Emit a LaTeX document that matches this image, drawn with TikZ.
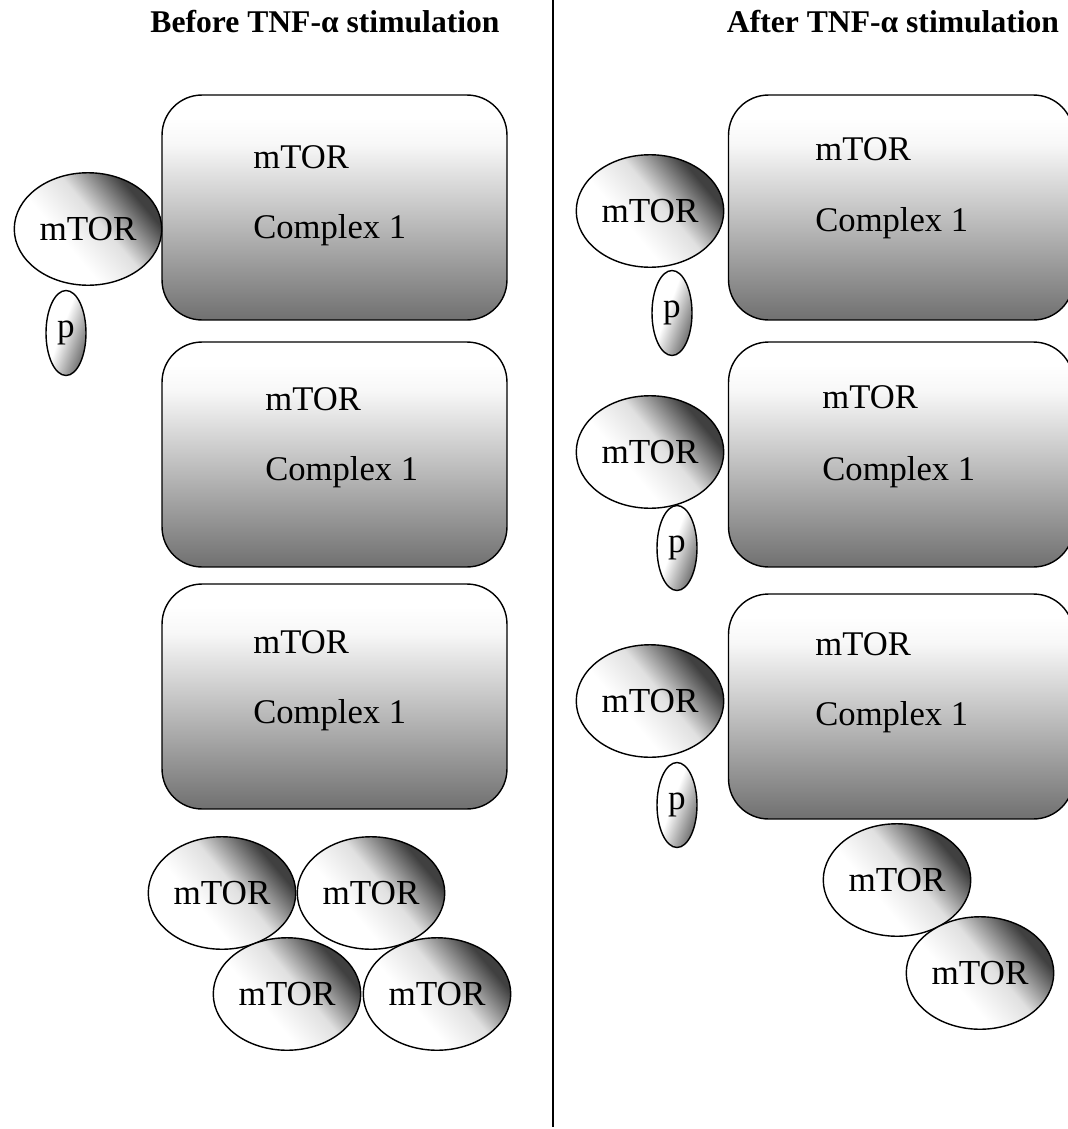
\documentclass[tikz,border=0pt]{standalone}
\usepackage{fontspec}
\setmainfont{Liberation Serif}
\usetikzlibrary{shapes.geometric}

\pgfdeclareverticalshading{blobshade}{100bp}{color(0bp)=(white); color(40bp)=(white);
  color(55bp)=(black!12); color(72bp)=(black!75); color(100bp)=(black!75)}
\pgfdeclareverticalshading{pshade}{100bp}{color(0bp)=(white); color(45bp)=(white);
  color(75bp)=(black!60); color(100bp)=(black!60)}
\pgfdeclareverticalshading{boxshade}{100bp}{color(0bp)=(black!56); color(25bp)=(black!56);
  color(64bp)=(black!3); color(70bp)=(white); color(100bp)=(white)}

\tikzset{
  complexbox/.style={rectangle, rounded corners=0.8cm, draw=black, line width=0.8pt,
    minimum width=6.9cm, minimum height=4.5cm, inner sep=0pt, shading=boxshade},
  mtorblob/.style={ellipse, draw=black, line width=0.8pt, inner sep=0pt,
    minimum width=2.95cm, minimum height=2.25cm, font=\fontsize{20}{24}\selectfont,
    shading=blobshade, shading angle=-50},
  pblob/.style={ellipse, draw=black, line width=0.8pt, inner sep=0pt,
    minimum width=0.8cm, minimum height=1.7cm, font=\fontsize{20}{24}\selectfont,
    shading=pshade, shading angle=-110},
  boxlabel/.style={anchor=west, inner sep=0pt, text height=1.5ex, text depth=.25ex,
    font=\fontsize{19.7}{24}\selectfont},
  heading/.style={font=\fontsize{18}{22}\selectfont\bfseries}
}

\begin{document}
\begin{tikzpicture}[x=0.02cm, y=-0.02cm]

\useasboundingbox (0,0) rectangle (1068,1129);

% headings and divider
\node[heading] (before) at (325,22) {Before TNF-α stimulation};
\node[heading] (after) at (893,22) {After TNF-α stimulation};
\coordinate (divtop) at (553,0);
\coordinate (divbot) at (553,1127);
\draw[line width=0.8pt] (divtop) -- (divbot);

% before: complexes
\node[complexbox] (c1) at (334.5,207.5) {};
\node[complexbox] (c2) at (334.5,454.5) {};
\node[complexbox] (c3) at (334.5,696.5) {};
\node[boxlabel] (c1a) at (253,163) {mTOR};
\node[boxlabel] (c1b) at (253,233) {Complex 1};
\node[boxlabel] (c2a) at (265,405) {mTOR};
\node[boxlabel] (c2b) at (265,475) {Complex 1};
\node[boxlabel] (c3a) at (253,648) {mTOR};
\node[boxlabel] (c3b) at (253,718) {Complex 1};

% before: mTOR attached with p
\node[mtorblob] (m1) at (88,229) {mTOR};
\node[pblob] (p1) at (66,333) {p};

% before: free mTOR
\node[mtorblob] (f1) at (222,893) {mTOR};
\node[mtorblob] (f2) at (371,893) {mTOR};
\node[mtorblob] (f3) at (287,994) {mTOR};
\node[mtorblob] (f4) at (437,994) {mTOR};

% after: complexes
\node[complexbox] (d1) at (901,207.5) {};
\node[complexbox] (d2) at (901,454.5) {};
\node[complexbox] (d3) at (901,706.5) {};
\node[boxlabel] (d1a) at (815,155) {mTOR};
\node[boxlabel] (d1b) at (815,226) {Complex 1};
\node[boxlabel] (d2a) at (822,403) {mTOR};
\node[boxlabel] (d2b) at (822,475) {Complex 1};
\node[boxlabel] (d3a) at (815,650) {mTOR};
\node[boxlabel] (d3b) at (815,720) {Complex 1};

% after: mTOR with p
\node[mtorblob] (n1) at (650,211) {mTOR};
\node[pblob] (q1) at (672,313) {p};
\node[mtorblob] (n2) at (650,452) {mTOR};
\node[pblob] (q2) at (677,548) {p};
\node[mtorblob] (n3) at (650,701) {mTOR};
\node[pblob] (q3) at (677,805) {p};

% after: free mTOR
\node[mtorblob] (g1) at (897,880) {mTOR};
\node[mtorblob] (g2) at (980,973) {mTOR};

\end{tikzpicture}
\end{document}
